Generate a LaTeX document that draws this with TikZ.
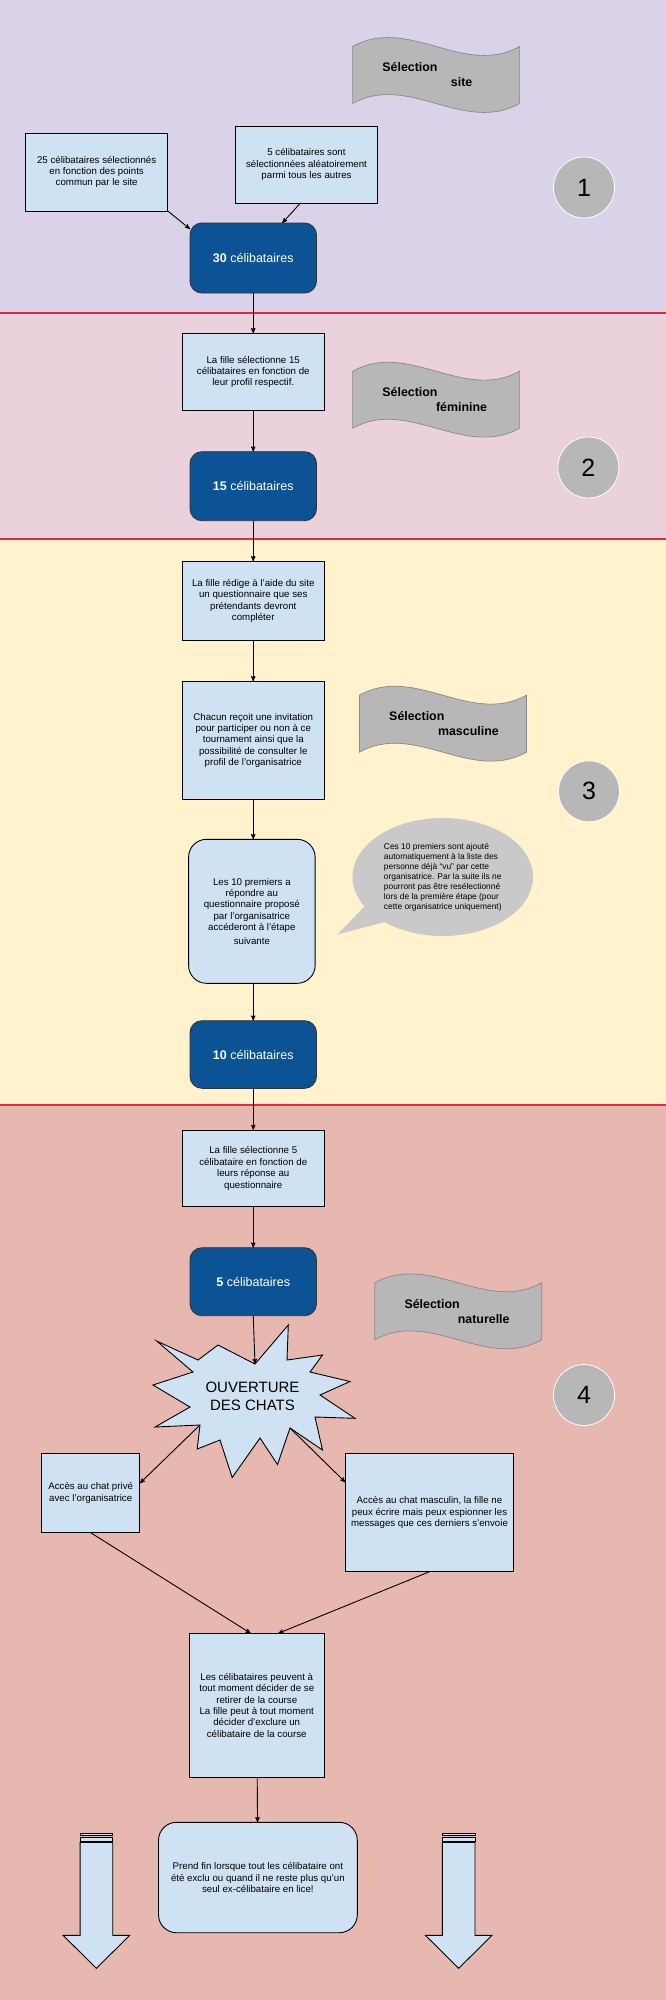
\documentclass[tikz,border=0pt]{standalone}
\usepackage{fontspec}
\setmainfont{Liberation Sans}
\usepackage{tikz}
\usetikzlibrary{arrows,shapes,positioning}

\definecolor{bandA}{HTML}{D9D2E9}
\definecolor{bandB}{HTML}{EAD1DC}
\definecolor{bandC}{HTML}{FFF2CC}
\definecolor{bandD}{HTML}{E6B8AF}
\definecolor{lightblue}{HTML}{CFE2F3}
\definecolor{darkblue}{HTML}{0B5394}
\definecolor{flaggray}{HTML}{B7B7B7}
\definecolor{bubblegray}{HTML}{C9C9C9}
\definecolor{redline}{HTML}{DD2C3C}

\begin{document}
\begin{tikzpicture}[x=1pt,y=-1pt,->,>=stealth',line width=0.9pt]
\tikzstyle{bluebox}=[draw=black,fill=lightblue,inner sep=0pt,outer sep=0pt,align=center,minimum width=142.3pt,font=\fontsize{9.7}{11.4}\selectfont]
\tikzstyle{roundbox}=[bluebox,rounded corners=18pt]
\tikzstyle{celibox}=[draw=black!80,fill=darkblue,rounded corners=12pt,outer sep=0pt,text=white,minimum width=126.5pt,font=\fontsize{12.5}{15}\selectfont]
\tikzstyle{stepnum}=[circle,fill=flaggray,draw=white,line width=0.8pt,minimum size=61pt,inner sep=0pt,font=\fontsize{25}{30}\selectfont]
\tikzstyle{flagword}=[inner sep=0pt,font=\bfseries\fontsize{12.4}{15}\selectfont]

\useasboundingbox (0,0) rectangle (666,2000);

% fonds des etapes
\fill[bandA] (0,0) rectangle (666,313);
\fill[bandB] (0,313) rectangle (666,539);
\fill[bandC] (0,539) rectangle (666,1105);
\fill[bandD] (0,1105) rectangle (666,2000);
\foreach \y in {313,539,1105}
  \draw[-,redline,line width=1.2pt] (0,\y) -- (666,\y);

% drapeaux
\foreach \x/\y/\mot [count=\i] in {352.6/37/site,352.6/361.7/féminine,359.4/685.7/masculine,374.7/1273.3/naturelle}
{
\draw[-,fill=flaggray,draw=flaggray!75!black,line width=0.7pt]
(\x,\y+9.5) .. controls (\x+55.7,\y-21.5) and (\x+111.3,\y+40.5) .. (\x+167,\y+9.5)
-- (\x+167,\y+66.5) .. controls (\x+111.3,\y+97.5) and (\x+55.7,\y+35.5) .. (\x,\y+66.5) -- cycle;
\node[flagword] (sel\i) at (\x+57.4,\y+30.5) {Sélection};
\node[flagword] (mot\i) at (\x+109,\y+45.5) {\mot};
}

% numeros
\foreach \n/\x/\y in {1/584/187.5,2/588.4/467.5,3/589/791.3,4/584/1395}
  \node[stepnum] (num\n) at (\x,\y) {\n};

% etape 1
\node[bluebox,minimum height=78pt] (pts) at (96.65,172) {25 célibataires sélectionnés\\en fonction des points\\commun par le site};
\node[bluebox,minimum height=77pt] (alea) at (306.5,164.5) {5 célibataires sont\\sélectionnées aléatoirement\\parmi tous les autres};
\node[celibox,minimum height=70pt] (c30) at (253.25,258) {\textbf{30} célibataires};

% etape 2
\node[bluebox,minimum height=77.4pt] (fille15) [below=40.3pt of c30] {La fille sélectionne 15\\célibataires en fonction de\\leur profil respectif.};
\node[celibox,minimum height=69pt] (c15) [below=41pt of fille15] {\textbf{15} célibataires};

% etape 3
\node[bluebox,minimum height=79.4pt] (redige) [below=40.6pt of c15] {La fille rédige à l'aide du site\\un questionnaire que ses\\prétendants devront\\compléter};
\node[bluebox,minimum height=118pt] (invit) [below=40.6pt of redige] {Chacun reçoit une invitation\\pour participer ou non à ce\\tournament ainsi que la\\possibilité de consulter le\\profil de l'organisatrice};
\node[roundbox,minimum width=126.6pt,minimum height=144pt] (dix) [below=40pt of invit,xshift=-1.4pt] {Les 10 premiers a\\répondre au\\questionnaire proposé\\par l'organisatrice\\accéderont à l'étape\\[2.5pt]suivante};
\node[celibox,minimum height=67.6pt] (c10) [below=37.4pt of dix,xshift=1.4pt] {\textbf{10} célibataires};
\node[ellipse callout,fill=bubblegray,minimum width=180.5pt,minimum height=118pt,inner sep=0pt,
callout absolute pointer={(337.7,934.3)},callout pointer arc=20,align=left,
font=\fontsize{8.4}{10}\selectfont] (vu) at (442.8,877)
{Ces 10 premiers sont ajouté\\automatiquement à la liste des\\personne déjà “vu” par cette\\organisatrice. Par la suite ils ne\\pourront pas être resélectionné\\lors de la première étape (pour\\cette organisatrice uniquement)};

% etape 4
\node[bluebox,minimum height=76.7pt] (fille5) [below=41.7pt of c10] {La fille sélectionne 5\\célibataire en fonction de\\leurs réponse au\\questionnaire};
\node[celibox,minimum height=68pt] (c5) [below=41pt of fille5] {\textbf{5} célibataires};

\draw[-,fill=lightblue,line join=miter]
(156.7,1341) -- (198,1360) -- (218,1345) -- (255,1364) coordinate (chatsin)
-- (288.3,1325) -- (287,1360) -- (322.5,1355) -- (310,1372) -- (350,1381.5)
-- (320,1395) -- (355,1418.3) -- (315,1417) -- (322.5,1450) -- (290,1428) coordinate (chatsd)
-- (277.5,1464.5) -- (260,1438) -- (232.2,1477.5) -- (220,1440) -- (197.2,1449)
-- (200,1425) coordinate (chatsg) -- (155,1427) -- (190,1407) -- (153,1385) -- (193,1372) -- cycle;
\node[align=center,font=\fontsize{15}{18.3}\selectfont] (chats) at (252.5,1396) {OUVERTURE\\DES CHATS};

\node[bluebox,minimum width=98.2pt,minimum height=79.4pt] (prive) at (90.7,1493) {Accès au chat privé\\avec l'organisatrice};
\node[bluebox,minimum width=168.2pt,minimum height=118.4pt] (masc) at (429.5,1512.5) {Accès au chat masculin, la fille ne\\peux écrire mais peux espionner les\\messages que ces derniers s'envoie};
\node[bluebox,minimum width=135.5pt,minimum height=144pt] (retrait) at (256.75,1705.3) {Les célibataires peuvent à\\tout moment décider de se\\retirer de la course\\La fille peut à tout moment\\décider d'exclure un\\célibataire de la course};
\node[roundbox,minimum width=198.8pt,minimum height=110.4pt] (fin) [below=45pt of retrait,xshift=1.15pt] {Prend fin lorsque tout les célibataire ont\\été exclu ou quand il ne reste plus qu'un\\seul ex-célibataire en lice!};

% fleches du bas
\foreach \x in {96.4,458.7}
{
\draw[-,fill=lightblue] (\x-16.3,1833.3) rectangle (\x+16.3,1835.3);
\draw[-,fill=lightblue] (\x-16.3,1837.3) rectangle (\x+16.3,1841);
\draw[-,fill=lightblue] (\x-16.3,1842.3) -- (\x-16.3,1935.3) -- (\x-33.3,1935.3) -- (\x,1968.3)
-- (\x+33.3,1935.3) -- (\x+16.3,1935.3) -- (\x+16.3,1842.3) -- cycle;
}

\path
(pts.south east) edge ([yshift=-6pt]c30.north west)
([xshift=-6pt]alea.south) edge ([xshift=29pt]c30.north)
(c30) edge (fille15)
(fille15) edge (c15)
(c15) edge (redige)
(redige) edge (invit)
(invit.south) edge (invit.south |- dix.north)
(c10.north |- dix.south) edge (c10.north)
(c10) edge (fille5)
(fille5) edge (c5)
(c5.south) edge (chatsin)
(chatsg) edge ([yshift=-30pt]prive.north east)
(chatsd) edge ([yshift=-29pt]masc.north west)
(prive.south) edge ([xshift=-6pt]retrait.north)
(masc.south) edge ([xshift=21.5pt]retrait.north)
(retrait) edge (fin);

\end{tikzpicture}
\end{document}
